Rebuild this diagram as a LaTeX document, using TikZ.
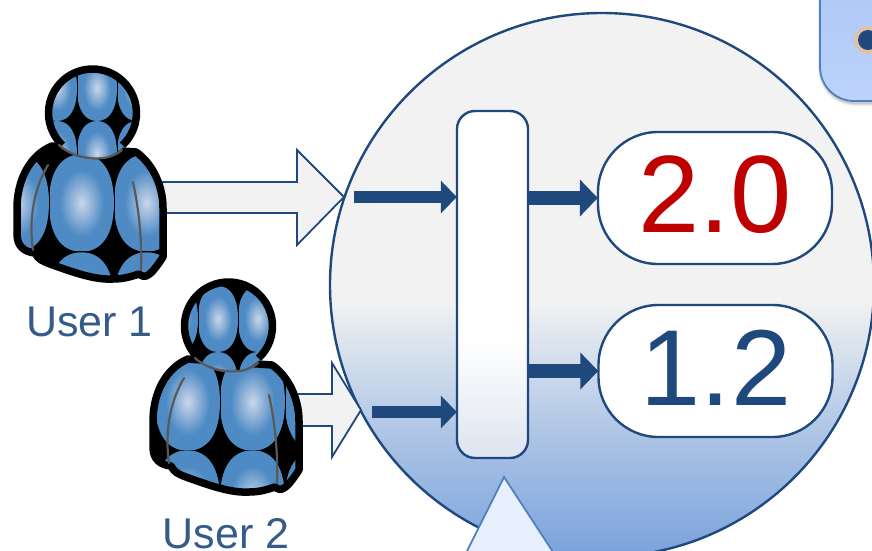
\documentclass[tikz,border=0pt]{standalone}
\usepackage{fontspec}
\setmainfont{Liberation Sans}
\usetikzlibrary{arrows.meta}
\definecolor{navy}{HTML}{1F497D}
\definecolor{edge}{HTML}{4F81BD}
\definecolor{tileblue}{HTML}{4E8BC4}
\definecolor{tilehi}{HTML}{CBD6EA}
\definecolor{greyline}{HTML}{595959}
\definecolor{pale}{HTML}{F2F2F2}
\definecolor{circbot}{HTML}{7AA2DC}
\definecolor{circmid}{HTML}{A8C1E4}
\definecolor{hubbot}{HTML}{DDE4EF}
\definecolor{boxtop}{HTML}{ABC6F5}
\definecolor{boxbot}{HTML}{BDD3FA}
\definecolor{halo}{HTML}{DFC3A8}
\definecolor{tripale}{HTML}{E8F0FD}
\pgfdeclareverticalshading{circshade}{100bp}{
  color(0bp)=(circbot);
  color(25bp)=(circbot);
  color(35.3bp)=(circmid);
  color(48.6bp)=(pale);
  color(100bp)=(pale)}
\pgfdeclareverticalshading{hubshade}{100bp}{
  color(0bp)=(hubbot);
  color(25bp)=(hubbot);
  color(42bp)=(white);
  color(100bp)=(white)}
\pgfdeclareradialshading{tileshade}{\pgfpoint{0bp}{0bp}}{
  color(0bp)=(tilehi);
  color(17bp)=(tileblue);
  color(50bp)=(tileblue)}
\tikzset{
  bigarrow/.style={fill=pale,draw=navy,line width=1.8pt,line join=miter},
  flowin/.style={draw=navy,line width=12.5pt,-{Triangle[length=16pt,width=32pt]},shorten >=-1pt},
  flowout/.style={draw=navy,line width=14pt,-{Triangle[length=18pt,width=36pt]},shorten >=-1pt},
  pill/.style={draw=navy,line width=2.4pt,fill=white,rounded corners=60pt,minimum width=234pt,minimum height=132pt,inner sep=0pt},
  userlabel/.style={text=navy!90!white,font=\fontsize{43}{43}\selectfont,inner sep=0pt,anchor=base},
  hub/.style={draw=navy,line width=2.4pt,rounded corners=18pt,minimum width=71pt,minimum height=347pt,inner sep=0pt,shade,shading=hubshade},
  greyarc/.style={draw=greyline,line width=2.2pt,line cap=round}
}
\newcommand{\tilepatch}[4]{%
  \begin{scope}[shift={(#1,#2)},xscale=#3,yscale=#4]
    \shade[shading=tileshade]
      (-1,0) .. controls (-1,-.64) and (-.64,-1) .. (0,-1)
      .. controls (.64,-1) and (1,-.64) .. (1,0)
      .. controls (1,.64) and (.64,1) .. (0,1)
      .. controls (-.64,1) and (-1,.64) .. (-1,0) -- cycle;
  \end{scope}%
  \draw[black,line width=.9pt] (#1-#3,#2-#4) -- (#1-#3,#2+#4) (#1-#3,#2+#4) -- (#1+#3,#2+#4);%
}
\newcommand{\bodypath}{(52,146) .. controls (30,155) and (17,180) .. (17,208) -- (17,234)
   .. controls (17,246) and (24,252) .. (35,253) .. controls (38,259) and (42,261) .. (50,264)
   .. controls (75,273) and (95,280) .. (113,279) .. controls (123,279) and (130,277) .. (139,274)
   .. controls (145,279) and (150,277) .. (163,257) -- (163,208)
   .. controls (163,185) and (152,163) .. (136,152) -- cycle}
% #1 #2 shift, #3 #4 body tile centres, #5 #6 head tile centres
\newcommand{\person}[6]{%
  \begin{scope}[shift={(#1,#2)}]
    \begin{scope}
      \clip \bodypath;
      \fill[black] (0,130) rectangle (180,300);
      \foreach \cx in {#3}{\foreach \cy in {#4}{\tilepatch{\cx}{\cy}{32.5}{48.7}}}
    \end{scope}
    \draw[black,line width=7.5pt,line join=round] \bodypath;
    \begin{scope}
      \clip (92.5,113) circle (46);
      \fill[black] (40,60) rectangle (150,170);
      \foreach \cx in {#5}{\foreach \cy in {#6}{\tilepatch{\cx}{\cy}{20}{33}}}
    \end{scope}
    \draw[black,line width=7.5pt] (92.5,113) ++(133:44) arc[start angle=133,end angle=407,radius=44];
    \draw[greyarc] (59,145) .. controls (72,158) and (105,165) .. (122,150);
    \draw[greyarc] (48,165) .. controls (36,185) and (28,215) .. (33,250);
    \draw[greyarc] (133,182) .. controls (139,210) and (142,240) .. (141,270);
  \end{scope}%
}
\begin{document}
\begin{tikzpicture}[x=1pt,y=-1pt]
\useasboundingbox (0,0) rectangle (872,551);
\clip (0,0) rectangle (872,551);
\fill[white] (0,0) rectangle (872,551);

% large circle
\path[shade,shading=circshade,draw=navy,line width=2.4pt] (602,285) circle (272);

% top right box
\foreach \o/\w in {.05/6,.07/4,.09/2}
  \draw[black,opacity=\o,line width=\w pt,rounded corners=34pt] (821,-40) -- (821,103) -- (920,103);
\path[draw=edge,line width=1.8pt,rounded corners=34pt,top color=boxtop,bottom color=boxbot] (820,-40) rectangle (920,101);
\path[fill=halo] (868,40) circle (14);
\path[fill=navy] (868,40) circle (10);

% big arrows
\path[bigarrow] (150,182) -- (297,182) -- (297,150) -- (344,197) -- (297,245) -- (297,213) -- (150,213) -- cycle;
\path[bigarrow] (290,394) -- (332,394) -- (332,363) -- (361,410) -- (332,457) -- (332,426) -- (290,426) -- cycle;

% hub and value nodes
\node[hub] (hub) at (492.5,284.5) {};
\node[pill] (v1) at (715,198) {};
\node[pill] (v2) at (715.5,371) {};
\node[text=red!75!black,font=\fontsize{110}{110}\selectfont,inner sep=0pt,anchor=base] (t1) at (715,232) {2.0};
\node[text=navy,font=\fontsize{108}{108}\selectfont,inner sep=0pt,anchor=base] (t2) at (716,405) {1.2};

% inputs
\coordinate (in1) at (354,197);
\coordinate (in2) at (372,412);
\draw[flowin] (in1) -- (in1 -| hub.west);
\draw[flowin] (in2) -- (in2 -| hub.west);
\draw[flowout] (hub.east |- v1) -- (v1.west);
\draw[flowout] (hub.east |- v2) -- (v2.west);

% triangle
\path[fill=tripale,draw=edge,line width=1.8pt] (504,477) -- (455,575) -- (568,575) -- cycle;

% users
\person{0}{0}{16.5,81.5,146.5}{105,203,301}{57,97,137}{22,88,154}
\person{136}{213}{-13.5,51.5,116.5,181.5}{92,189,286}{42,82,122}{40,106,172}
\node[userlabel] (u1) at (89.5,336) {User 1};
\node[userlabel] (u2) at (226,548) {User 2};
\end{tikzpicture}
\end{document}
